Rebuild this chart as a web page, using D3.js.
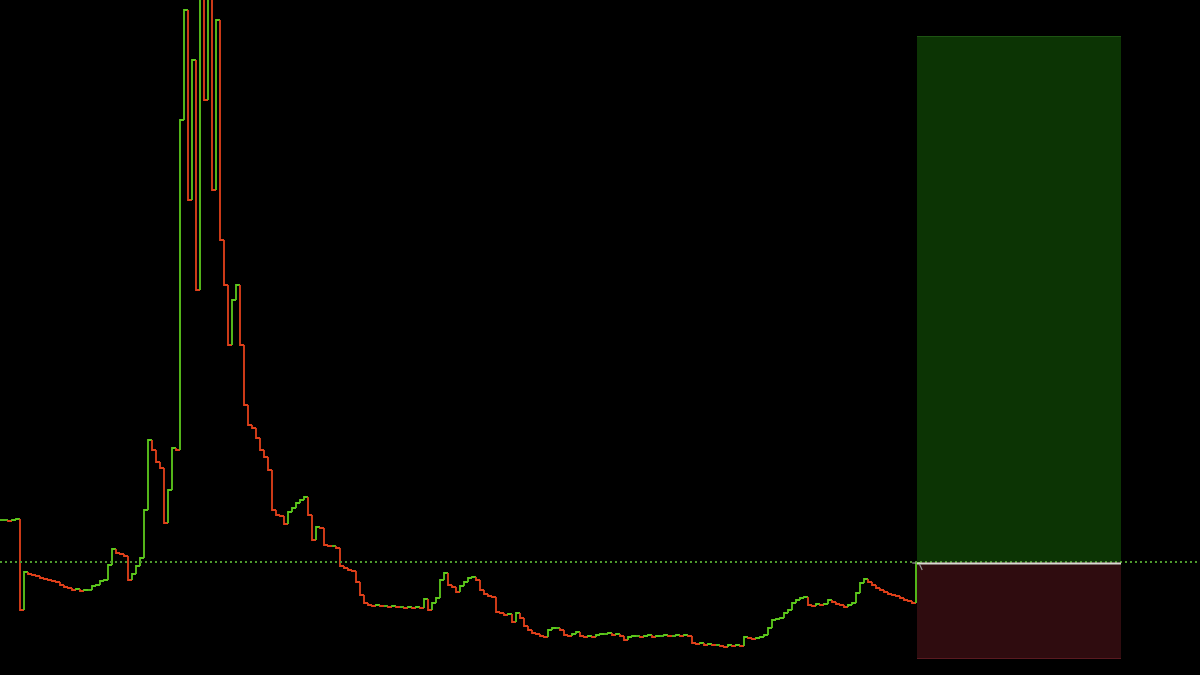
<!DOCTYPE html>
<html>
<head>
<meta charset="utf-8">
<script src="https://cdn.jsdelivr.net/npm/d3@7/dist/d3.min.js"></script>
<style>
  html, body { margin: 0; padding: 0; background: #000; }
  svg { display: block; }
</style>
</head>
<body>
<svg id="chart" width="1200" height="675"></svg>
<script>
// Close prices, one per bar (bar index = position in the list)
const closes = [
  15.5, 15.5, 15.4, 15.5, 15.6, 6.5, 10.3, 10.1, 10.0, 9.9,
  9.7, 9.6, 9.5, 9.4, 9.3, 9.0, 8.8, 8.7, 8.5, 8.6,
  8.4, 8.5, 8.5, 8.9, 9.0, 9.4, 9.5, 11.0, 12.6, 12.2,
  12.1, 11.9, 9.5, 10.1, 10.9, 11.7, 16.5, 23.5, 22.5, 21.3,
  20.7, 15.2, 18.5, 22.7, 22.5, 55.5, 66.5, 47.5, 61.5, 38.5,
  69.0, 57.5, 70.0, 48.5, 65.5, 43.5, 39.0, 33.0, 37.5, 39.0,
  33.0, 27.0, 25.0, 24.7, 23.7, 22.5, 21.8, 20.5, 16.5, 16.0,
  15.9, 15.1, 16.3, 16.7, 17.2, 17.5, 17.8, 16.0, 13.5, 14.8,
  14.7, 13.0, 12.9, 12.9, 12.7, 10.9, 10.7, 10.5, 10.4, 9.3,
  8.0, 7.2, 7.0, 6.9, 7.0, 6.9, 6.9, 6.8, 6.9, 6.8,
  6.8, 6.7, 6.8, 6.7, 6.8, 6.7, 7.6, 6.5, 7.2, 7.7,
  9.5, 10.2, 9.0, 8.8, 8.3, 8.9, 9.3, 9.7, 9.8, 9.5,
  8.5, 8.1, 7.9, 7.8, 6.3, 6.2, 6.0, 6.1, 5.3, 6.2,
  5.7, 4.9, 4.5, 4.2, 4.1, 3.9, 3.8, 4.5, 4.7, 4.7,
  4.5, 4.0, 3.9, 4.1, 4.3, 3.9, 3.8, 3.9, 3.8, 4.0,
  4.1, 4.1, 4.2, 4.0, 4.1, 3.9, 3.5, 3.8, 3.9, 3.9,
  3.8, 3.9, 4.0, 3.8, 3.9, 3.9, 4.0, 3.9, 3.9, 4.0,
  3.9, 4.0, 3.9, 3.2, 3.1, 3.2, 3.0, 3.1, 3.0, 3.0,
  2.9, 2.8, 3.0, 2.9, 3.0, 2.9, 3.8, 3.7, 3.6, 3.7,
  3.8, 4.0, 4.7, 5.5, 5.6, 5.7, 6.2, 6.5, 7.2, 7.5,
  7.7, 7.8, 7.0, 6.9, 7.1, 7.0, 7.1, 7.5, 7.3, 7.1,
  7.0, 6.8, 7.0, 7.2, 8.2, 9.2, 9.6, 9.3, 9.0, 8.7,
  8.5, 8.3, 8.1, 8.0, 7.9, 7.7, 7.5, 7.4, 7.2, 11.2
];

// Long-position tool
const entryPrice = 11.3;
const targetPrice = 63.9;
const stopPrice = 1.6;
const positionStart = 229.25;
const positionEnd = 280.25;

const W = 1200, H = 675;
const svg = d3.select("#chart");
svg.append("rect").attr("width", W).attr("height", H).attr("fill", "#000");

const x = d3.scaleLinear().domain([0, 300]).range([0, W]);
const y = d3.scaleLinear().domain([0, 67.5]).range([H, 0]);

const upColor = "#5cc81c";
const downColor = "#e0401a";

// Position boxes
const g = svg.append("g");
g.append("rect")
  .attr("x", x(positionStart)).attr("y", y(targetPrice))
  .attr("width", x(positionEnd) - x(positionStart))
  .attr("height", y(entryPrice) - y(targetPrice))
  .attr("fill", "#0c3404");
g.append("line")
  .attr("x1", x(positionStart)).attr("x2", x(positionEnd))
  .attr("y1", y(targetPrice) + 0.5).attr("y2", y(targetPrice) + 0.5)
  .attr("stroke", "#1d5412").attr("stroke-width", 1);
g.append("rect")
  .attr("x", x(positionStart)).attr("y", y(entryPrice))
  .attr("width", x(positionEnd) - x(positionStart))
  .attr("height", y(stopPrice) - y(entryPrice))
  .attr("fill", "#2f0c0f");
g.append("line")
  .attr("x1", x(positionStart)).attr("x2", x(positionEnd))
  .attr("y1", y(stopPrice) - 0.5).attr("y2", y(stopPrice) - 0.5)
  .attr("stroke", "#5a1a20").attr("stroke-width", 1);

// Bars as stepped segments
const line = d3.line().x(d => x(d[0])).y(d => y(d[1]));
const bars = closes.map((c, i) => ({ i, o: i ? closes[i - 1] : c, c }));
svg.append("g").selectAll("path")
  .data(bars)
  .join("path")
  .attr("d", d => line([[d.i, d.o], [d.i, d.c], [d.i + 1, d.c]]))
  .attr("fill", "none")
  .attr("stroke", d => d.c >= d.o ? upColor : downColor)
  .attr("stroke-width", 1.8)
  .attr("stroke-linejoin", "miter");

// Entry price dotted line
svg.append("line")
  .attr("x1", 0).attr("x2", W)
  .attr("y1", y(entryPrice)).attr("y2", y(entryPrice))
  .attr("stroke", "#4e9a2e").attr("stroke-width", 2)
  .attr("stroke-dasharray", "2 3");

// Entry line on top of the stop zone
svg.append("line")
  .attr("x1", x(positionStart)).attr("x2", x(positionEnd))
  .attr("y1", y(entryPrice) + 1.5).attr("y2", y(entryPrice) + 1.5)
  .attr("stroke", "#d8d8d0").attr("stroke-width", 2);

// small entry marker
svg.append("path")
  .attr("d", line([[positionStart - 1.2, entryPrice - 0.1], [positionStart - 0.2, entryPrice - 0.1]]))
  .attr("stroke", "#9a9a9a").attr("stroke-width", 1.2).attr("fill", "none");
svg.append("path")
  .attr("d", line([[positionStart + 0.6, entryPrice - 0.2], [positionStart + 1.3, entryPrice - 0.8]]))
  .attr("stroke", "#9a9a9a").attr("stroke-width", 1.2).attr("fill", "none");
</script>
</body>
</html>
